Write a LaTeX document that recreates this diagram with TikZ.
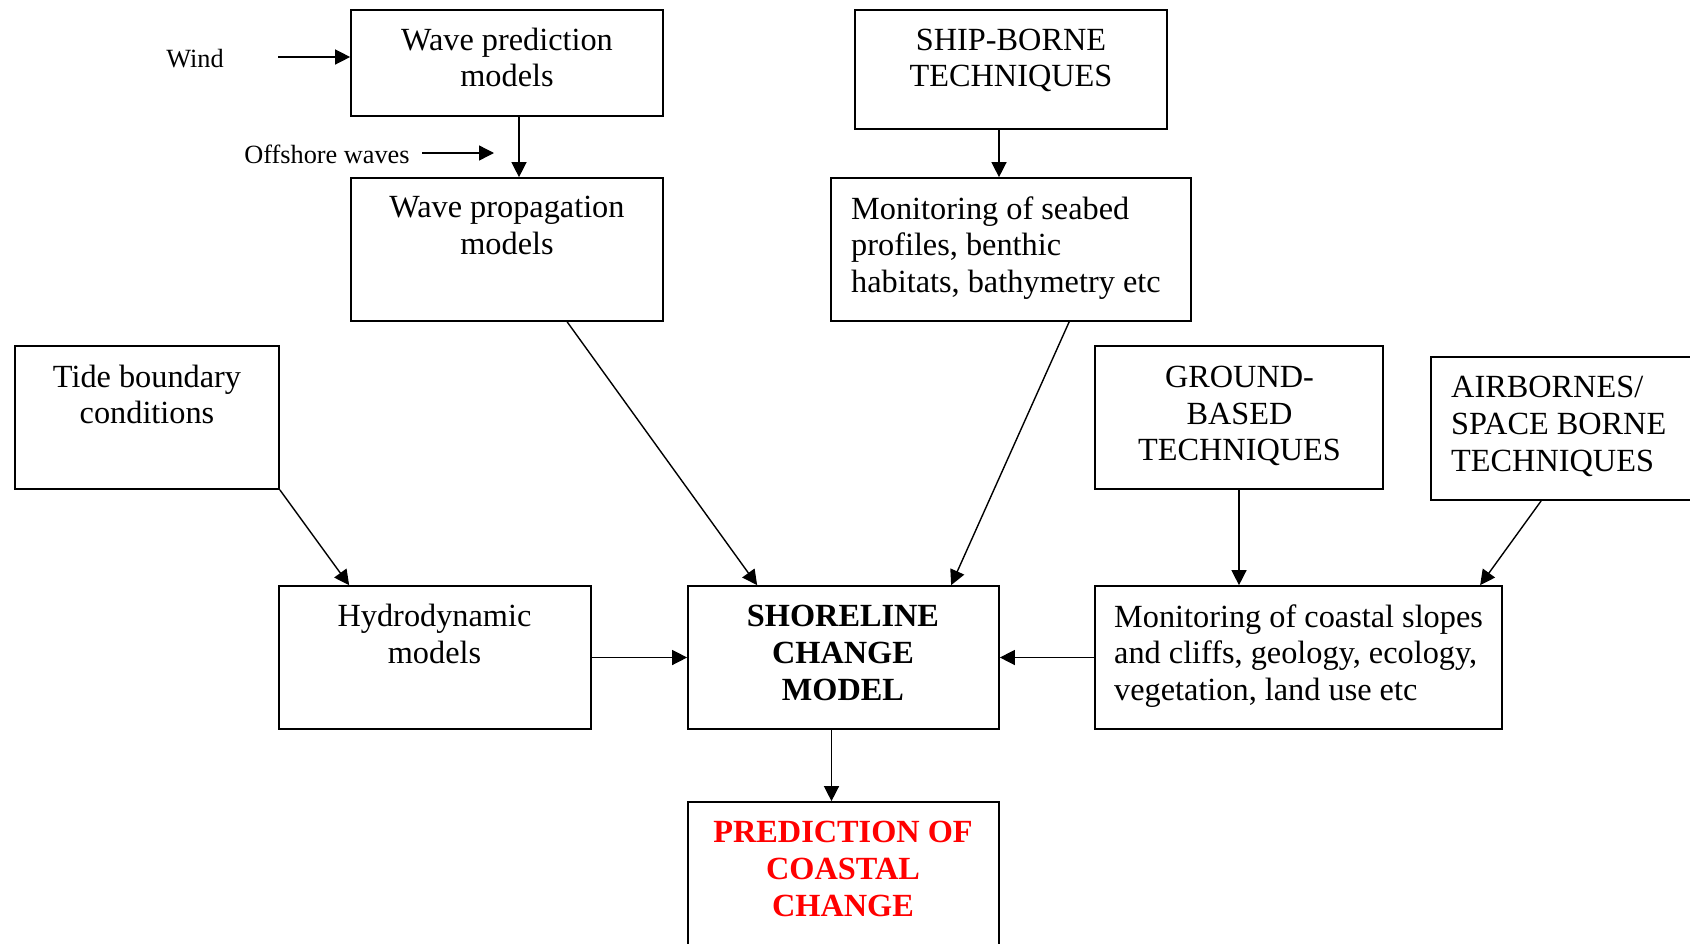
\documentclass[tikz,border=0pt]{standalone}
\usepackage{fontspec}
\setmainfont{Liberation Serif}
\usetikzlibrary{arrows.meta,calc}
\definecolor{predred}{RGB}{255,0,0}
\begin{document}
\begin{tikzpicture}[x=1pt,y=-1pt,
  box/.style={draw, line width=1.7pt, rectangle, inner sep=0pt},
  txt/.style={inner sep=0pt, font=\fontsize{32.3}{36.8}\selectfont},
  small/.style={inner sep=0pt, font=\fontsize{26.3}{30}\selectfont},
  arr/.style={line width=1.4pt, -{Triangle[length=15pt,width=15pt]}}]
\useasboundingbox (0,0) rectangle (1690,943);
\fill[white] (0,0) rectangle (1690,943);
% boxes
\node[box, minimum width=312pt, minimum height=106pt] (wp) at (507,63) {};
\node[box, minimum width=312pt, minimum height=143pt] (wprop) at (507,249.5) {};
\node[box, minimum width=312pt, minimum height=119pt] (ship) at (1011,69.5) {};
\node[box, minimum width=360pt, minimum height=143pt] (seabed) at (1011,249.5) {};
\node[box, minimum width=264pt, minimum height=143pt] (tide) at (147,417.5) {};
\node[box, minimum width=288pt, minimum height=143pt] (ground) at (1239,417.5) {};
\node[box, minimum width=279pt, minimum height=143pt] (air) at (1570.5,428.5) {};
\node[box, minimum width=312pt, minimum height=143pt] (hydro) at (435,657.5) {};
\node[box, minimum width=311pt, minimum height=143pt] (shore) at (843.5,657.5) {};
\node[box, minimum width=407pt, minimum height=143pt] (coast) at (1298.5,657.5) {};
\node[box, minimum width=311pt, minimum height=158pt] (pred) at (843.5,881) {};
% texts
\node[txt, align=center] (wpT) at (507,57.5) {Wave prediction\\models};
\node[txt, align=center] (wpropT) at (507,225.5) {Wave propagation\\models};
\node[txt, align=center] (shipT) at (1011,60.5) {SHIP-BORNE\\TECHNIQUES};
\node[txt, align=left, anchor=west] (seabedT) at (851,248) {Monitoring of seabed\\profiles, benthic\\habitats, bathymetry etc};
\node[txt, align=center] (tideT) at (147,394.5) {Tide boundary\\conditions};
\node[txt, align=center] (groundT) at (1239.5,416) {GROUND-\\BASED\\TECHNIQUES};
\node[txt, align=left, anchor=west] (airT) at (1451,426.5) {AIRBORNES/\\SPACE BORNE\\TECHNIQUES};
\node[txt, align=center] (hydroT) at (434.5,634) {Hydrodynamic\\models};
\node[txt, align=center, font=\fontsize{32.3}{36.8}\selectfont\bfseries] (shoreT) at (843,653) {SHORELINE\\CHANGE\\MODEL};
\node[txt, align=left, anchor=west] (coastT) at (1114,656) {Monitoring of coastal slopes\\and cliffs, geology, ecology,\\vegetation, land use etc};
\node[txt, align=center, text=predred, font=\fontsize{32.3}{36.8}\selectfont\bfseries] (predT) at (843,869) {PREDICTION OF\\COASTAL\\CHANGE};
% side inputs
\node[small] (wind) at (195,59) {Wind};
\node[small] (off) at (327,154) {Offshore waves};
\coordinate (windS) at (278,57);
\coordinate (offS) at (422,153);
\coordinate (offE) at (494,153);
% connectors
\draw[arr] (windS) -- (windS -| wp.west);
\draw[arr] (offS) -- (offE);
\draw[arr] ($(wp.south)+(12,0)$) -- ($(wprop.north)+(12,0)$);
\draw[arr] ($(ship.south)+(-12,0)$) -- ($(seabed.north)+(-12,0)$);
\draw[arr] ($(wprop.south west)+(217,0)$) -- ($(shore.north west)+(70,0)$);
\draw[arr] ($(seabed.south west)+(239,0)$) -- ($(shore.north west)+(264,0)$);
\draw[arr] (tide.south east) -- ($(hydro.north west)+(71,0)$);
\draw[arr] (hydro.east) -- (shore.west);
\draw[arr] (coast.west) -- (shore.east);
\draw[arr] (ground.south) -- (ground.south |- coast.north);
\draw[arr] ($(air.south west)+(111,0)$) -- ($(coast.north west)+(386,0)$);
\draw[arr] ($(shore.south)+(-12,0)$) -- ($(pred.north)+(-12,0)$);
\end{tikzpicture}
\end{document}
